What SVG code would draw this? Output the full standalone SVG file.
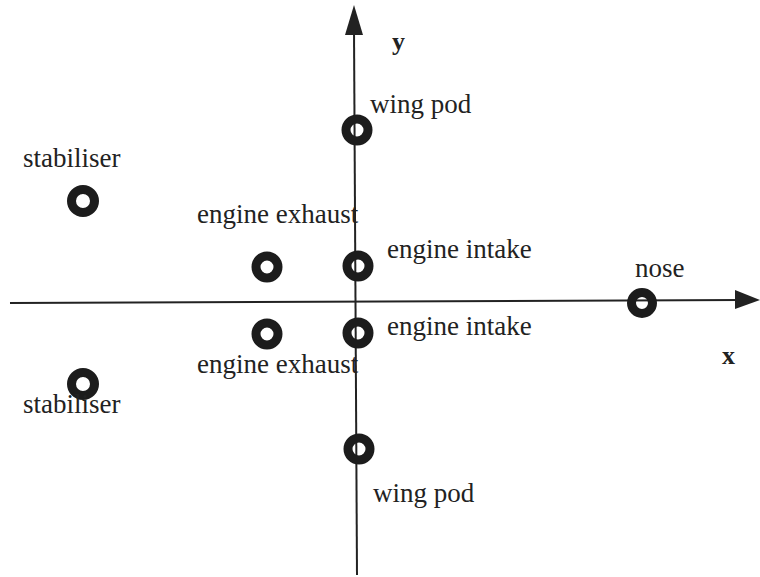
<svg xmlns="http://www.w3.org/2000/svg" width="760" height="577" viewBox="0 0 760 577">
<style>
.ax{stroke:#222;stroke-width:2;fill:none}
.head{fill:#222}
.pt{fill:none;stroke:#1c1c1c;stroke-width:9}
.lbl{font-family:"Liberation Serif","Times New Roman",serif;font-size:27px;fill:#222}
.axl{font-family:"Liberation Serif","Times New Roman",serif;font-size:26px;font-weight:bold;fill:#222}
</style>
<rect width="760" height="577" fill="#fff"/>
<g id="connectors">
<line class="ax" x1="10" y1="303" x2="740" y2="300"/>
<polygon class="head" points="760,300 735,290 735,309"/>
<line class="ax" x1="354" y1="30" x2="357" y2="575"/>
<polygon class="head" points="354,5 345,35 363,35"/>
</g>
<g id="axis-y"><text class="axl" x="392" y="50">y</text></g>
<g id="axis-x"><text class="axl" x="722" y="364">x</text></g>
<g id="wing-pod-top"><circle class="pt" cx="357" cy="130" r="11"/><text class="lbl" x="370" y="113">wing pod</text></g>
<g id="stabiliser-top"><circle class="pt" cx="83" cy="201" r="11.5"/><text class="lbl" x="23" y="167">stabiliser</text></g>
<g id="engine-exhaust-top"><circle class="pt" cx="267" cy="267" r="11"/><text class="lbl" x="197" y="223">engine exhaust</text></g>
<g id="engine-intake-top"><circle class="pt" cx="358" cy="266" r="11"/><text class="lbl" x="387" y="258">engine intake</text></g>
<g id="nose"><circle class="pt" cx="642" cy="303" r="10.5"/><text class="lbl" x="635" y="277">nose</text></g>
<g id="engine-intake-bottom"><circle class="pt" cx="358" cy="333" r="11"/><text class="lbl" x="387" y="335">engine intake</text></g>
<g id="engine-exhaust-bottom"><circle class="pt" cx="267" cy="334" r="11"/><text class="lbl" x="197" y="373">engine exhaust</text></g>
<g id="stabiliser-bottom"><circle class="pt" cx="83" cy="384" r="11.5"/><text class="lbl" x="23" y="413">stabiliser</text></g>
<g id="wing-pod-bottom"><circle class="pt" cx="359" cy="449" r="11"/><text class="lbl" x="373" y="502">wing pod</text></g>
</svg>
